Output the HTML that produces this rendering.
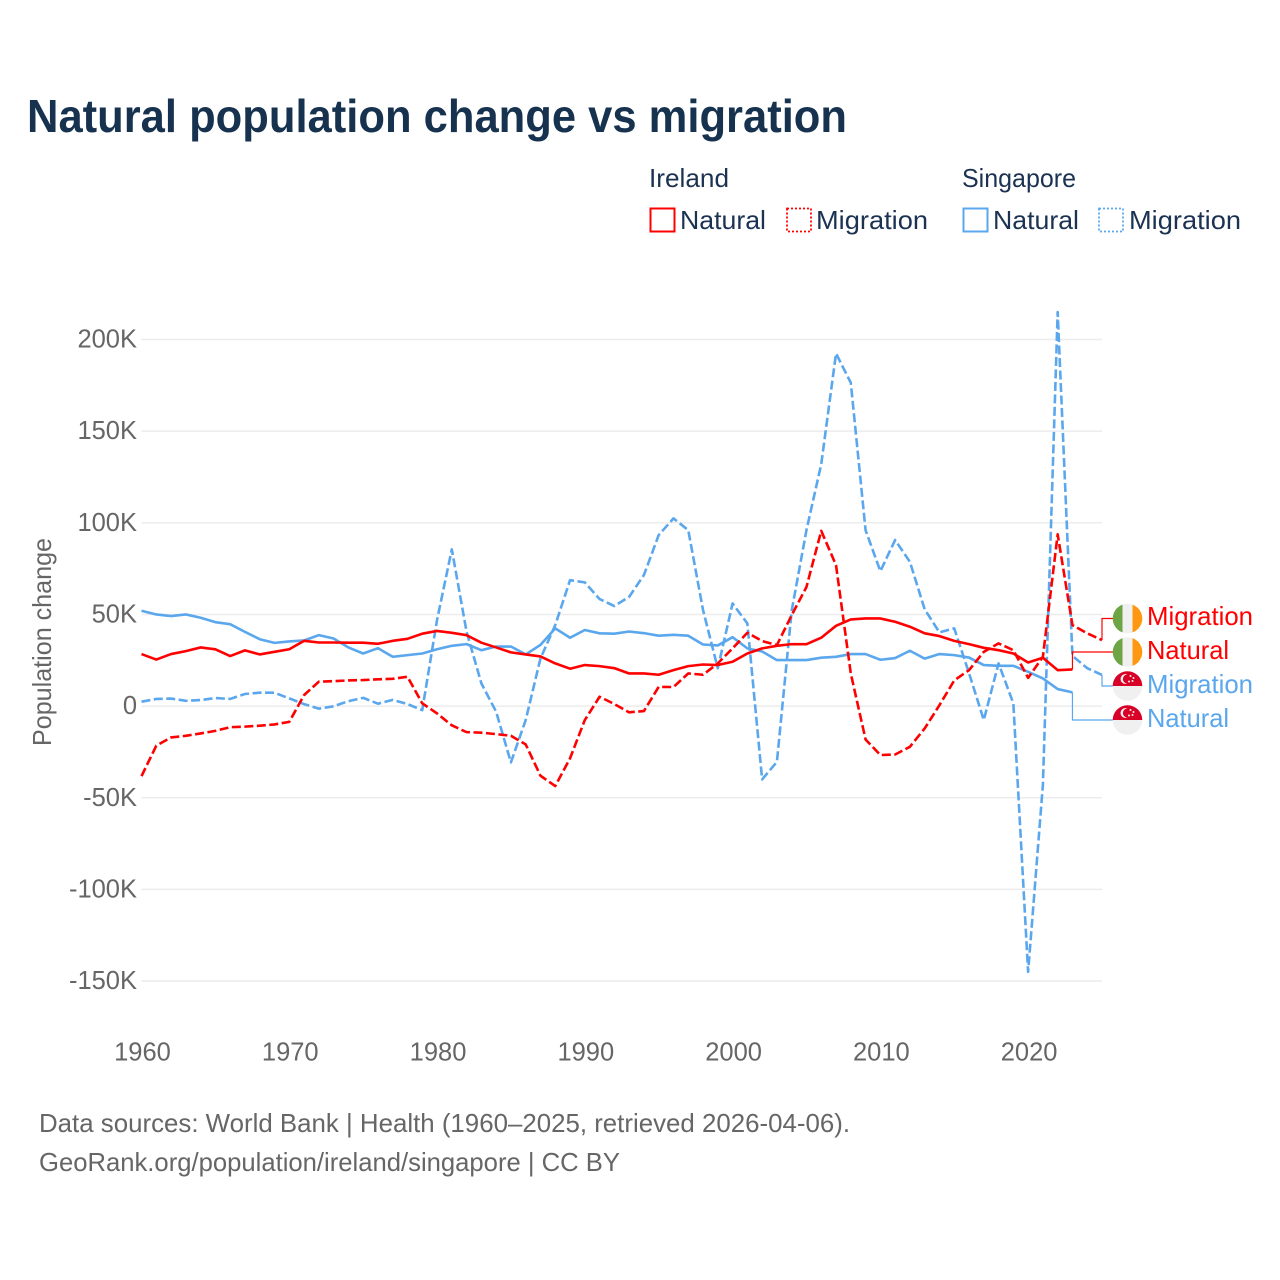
<!DOCTYPE html>
<html lang="en">
<head>
<meta charset="utf-8">
<title>Natural population change vs migration</title>
<style>
html,body{margin:0;padding:0;background:#fff;}
svg{display:block;}
text{font-family:"Liberation Sans",sans-serif;}
</style>
</head>
<body>
<svg id="chart" xmlns="http://www.w3.org/2000/svg" width="1280" height="1280" viewBox="0 0 1280 1280">
  <defs>
    <clipPath id="flag-clip"><circle cx="0" cy="0" r="14.8"/></clipPath>
  </defs>
  <rect x="0" y="0" width="1280" height="1280" fill="#ffffff"/>
  <text x="27" y="132" font-size="46" font-weight="700" fill="#17324f" textLength="820" lengthAdjust="spacingAndGlyphs">Natural population change vs migration</text>

  <g font-size="26" fill="#1b3252">
    <text x="649" y="187" textLength="80" lengthAdjust="spacingAndGlyphs">Ireland</text>
    <text x="962" y="187" textLength="114" lengthAdjust="spacingAndGlyphs">Singapore</text>
    <g>
      <rect x="650.5" y="208.5" width="24" height="23" fill="none" stroke="#ff0000" stroke-width="2"/>
      <text x="680" y="229" textLength="86" lengthAdjust="spacingAndGlyphs">Natural</text>
    </g>
    <g>
      <rect x="787" y="208.5" width="24" height="23" fill="none" stroke="#ff0000" stroke-width="1.8" stroke-dasharray="2,2"/>
      <text x="816" y="229" textLength="112" lengthAdjust="spacingAndGlyphs">Migration</text>
    </g>
    <g>
      <rect x="963.5" y="208.5" width="24" height="23" fill="none" stroke="#5ba7ee" stroke-width="2"/>
      <text x="993" y="229" textLength="86" lengthAdjust="spacingAndGlyphs">Natural</text>
    </g>
    <g>
      <rect x="1099" y="208.5" width="24" height="23" fill="none" stroke="#5ba7ee" stroke-width="1.8" stroke-dasharray="2,2"/>
      <text x="1129" y="229" textLength="112" lengthAdjust="spacingAndGlyphs">Migration</text>
    </g>
  </g>

  <g id="grid"></g>
  <g id="y-ticks"></g>
  <g id="x-ticks"></g>
  <text transform="translate(51,642) rotate(-90)" text-anchor="middle" font-size="26" fill="#666666" textLength="208" lengthAdjust="spacingAndGlyphs">Population change</text>

  <g id="series"></g>
  <g id="connectors"></g>

  <g>
    <g transform="translate(1127.5,618.5)"><g clip-path="url(#flag-clip)"><rect x="-15" y="-15" width="10" height="30" fill="#6da544"/><rect x="-5" y="-15" width="10" height="30" fill="#f0f0f0"/><rect x="5" y="-15" width="10" height="30" fill="#ff9811"/></g></g>
    <text x="1147" y="625" font-size="26" fill="#ff0000" textLength="106" lengthAdjust="spacingAndGlyphs">Migration</text>
  </g>
  <g>
    <g transform="translate(1127.5,652)"><g clip-path="url(#flag-clip)"><rect x="-15" y="-15" width="10" height="30" fill="#6da544"/><rect x="-5" y="-15" width="10" height="30" fill="#f0f0f0"/><rect x="5" y="-15" width="10" height="30" fill="#ff9811"/></g></g>
    <text x="1147" y="659" font-size="26" fill="#ff0000" textLength="82" lengthAdjust="spacingAndGlyphs">Natural</text>
  </g>
  <g>
    <g transform="translate(1127.5,686)"><g clip-path="url(#flag-clip)"><rect x="-15" y="-15" width="30" height="15" fill="#d80027"/><rect x="-15" y="0" width="30" height="15" fill="#f0f0f0"/><circle cx="-2" cy="-7" r="5" fill="#f0f0f0"/><circle cx="0" cy="-7" r="4.6" fill="#d80027"/><circle cx="3" cy="-10" r="1" fill="#f0f0f0"/><circle cx="6" cy="-8" r="1" fill="#f0f0f0"/><circle cx="5" cy="-5" r="1" fill="#f0f0f0"/><circle cx="1.500" cy="-4.500" r="1" fill="#f0f0f0"/></g></g>
    <text x="1147" y="693" font-size="26" fill="#5ba7ee" textLength="106" lengthAdjust="spacingAndGlyphs">Migration</text>
  </g>
  <g>
    <g transform="translate(1127.5,720)"><g clip-path="url(#flag-clip)"><rect x="-15" y="-15" width="30" height="15" fill="#d80027"/><rect x="-15" y="0" width="30" height="15" fill="#f0f0f0"/><circle cx="-2" cy="-7" r="5" fill="#f0f0f0"/><circle cx="0" cy="-7" r="4.6" fill="#d80027"/><circle cx="3" cy="-10" r="1" fill="#f0f0f0"/><circle cx="6" cy="-8" r="1" fill="#f0f0f0"/><circle cx="5" cy="-5" r="1" fill="#f0f0f0"/><circle cx="1.500" cy="-4.500" r="1" fill="#f0f0f0"/></g></g>
    <text x="1147" y="727" font-size="26" fill="#5ba7ee" textLength="82" lengthAdjust="spacingAndGlyphs">Natural</text>
  </g>

  <text x="39" y="1132" font-size="26" fill="#666666" textLength="811" lengthAdjust="spacingAndGlyphs">Data sources: World Bank | Health (1960–2025, retrieved 2026-04-06).</text>
  <text x="39" y="1171" font-size="26" fill="#666666" textLength="581" lengthAdjust="spacingAndGlyphs">GeoRank.org/population/ireland/singapore | CC BY</text>
</svg>
<script>
const startYear = 1960;
const endYear = 2025;
const yearTicks = [1960, 1970, 1980, 1990, 2000, 2010, 2020];
const valueTicks = [200, 150, 100, 50, 0, -50, -100, -150];
const valueTickLabels = ['200K', '150K', '100K', '50K', '0', '-50K', '-100K', '-150K'];

const irelandNatural = [
  28.4,25.4,28.4,30,32,31,27.3,30.4,28.2,29.6,
  31,35.6,34.7,34.7,34.6,34.6,34,35.6,36.7,39.5,
  41,40,38.7,34.6,32,29.3,28.2,27.1,23.3,20.4,
  22.4,21.8,20.7,17.8,17.8,17.1,19.6,21.8,22.7,22.4,
  24.2,28.7,31.5,32.9,33.8,33.8,37.3,43.8,47.3,47.8,
  47.8,46,43.3,39.7,38.2,35.6,33.8,31.8,30.5,28.7,
  23.8,26.4,19.6,20
];
const irelandMigration = [
  -38.2,-21.6,-17.1,-16.2,-14.9,-13.5,-11.5,-11.2,-10.7,-10,
  -8.6,6,13.3,13.6,14,14.2,14.6,14.9,16,1.5,
  -4,-10.5,-14.2,-14.5,-15.3,-16.2,-20.9,-38,-43.6,-28.5,
  -7.6,5.1,1.1,-3.4,-2.7,10.5,10.4,17.8,17.1,23.3,
  31.5,40,35.5,33.3,49.6,65,95.6,76.9,17.8,-18.2,
  -26.7,-26.4,-22.2,-12.2,0.5,14,19.6,29.6,34.2,30.5,
  15.4,26.9,93.7,44.2,39.7,36
];
const singaporeNatural = [
  52,50,49.1,50,48.2,45.8,44.7,40.5,36.5,34.5,
  35.3,35.8,38.7,36.9,32,28.7,31.6,26.9,27.8,28.7,
  31,32.9,33.8,30.5,32.5,32.5,28.2,33.4,42.4,37.3,
  41.5,39.7,39.5,40.7,39.8,38.4,38.9,38.4,33.6,33.1,
  37.6,31.5,29.8,25.1,25.1,25.1,26.4,26.9,28.4,28.4,
  25.3,26.2,30.2,25.9,28.4,27.8,26.5,22.4,22,22,
  18.7,15.1,9.3,7.5
];
const singaporeMigration = [
  2.4,3.9,4.1,2.9,3.3,4.4,3.9,6.6,7.3,7.3,
  4.2,1.1,-1.4,-0.1,2.7,4.5,1.3,3.4,1.1,-2.2,
  47,85.5,40.5,12.4,-3.1,-30.7,-7.6,26,44.2,68.7,
  67.5,58.4,54.6,59.6,71.5,93.3,102.4,96,52.4,20.6,
  56,45.1,-40,-30.4,52,96,132,192.4,176.4,96,
  73.6,90.6,78.7,52.8,40.2,42.4,18,-7.6,23.3,1.5,
  -145,-43,215,27.4,20.7,17
];

const NS = 'http://www.w3.org/2000/svg';
const plotLeft = 141.5;
const plotRight = 1102;
function xScale(year) {
  return plotLeft + (year - startYear) * (plotRight - plotLeft) / (endYear - startYear);
}
function yScale(value) {
  return 706.1 - value * 1.833;
}
function make(tag, parent) {
  const el = document.createElementNS(NS, tag);
  document.getElementById(parent).appendChild(el);
  return el;
}

valueTicks.forEach(function (value, i) {
  const line = make('line', 'grid');
  
  
  line.setAttribute('x1', plotLeft);
  line.setAttribute('x2', plotRight);
  line.setAttribute('y1', yScale(value));
  line.setAttribute('y2', yScale(value));
  line.setAttribute('stroke', '#ececec');
  line.setAttribute('stroke-width', '1.5');
  const label = make('text', 'y-ticks');
  
  
  label.setAttribute('x', 137);
  label.setAttribute('y', yScale(value) + 8);
  label.setAttribute('text-anchor', 'end');
  label.setAttribute('font-size', '25.5');
  label.setAttribute('fill', '#666666');
  label.textContent = valueTickLabels[i];
});

yearTicks.forEach(function (year) {
  const label = make('text', 'x-ticks');
  
  
  label.setAttribute('x', xScale(year) + 1);
  label.setAttribute('y', 1060.5);
  label.setAttribute('text-anchor', 'middle');
  label.setAttribute('font-size', '25.5');
  label.setAttribute('fill', '#666666');
  label.textContent = String(year);
});

function drawSeries(values, color, dashed, name) {
  const path = make('path', 'series');
  
  
  const d = values.map(function (v, i) {
    return (i ? 'L' : 'M') + xScale(startYear + i).toFixed(2) + ' ' + yScale(v).toFixed(2);
  }).join(' ');
  path.setAttribute('d', d);
  path.setAttribute('fill', 'none');
  path.setAttribute('stroke', color);
  path.setAttribute('stroke-width', '2.600');
  path.setAttribute('stroke-linejoin', 'round');
  if (dashed) path.setAttribute('stroke-dasharray', '9,3.5');
}

function drawConnector(values, color, labelY, name) {
  const path = make('path', 'connectors');
  
  
  const lastX = xScale(startYear + values.length - 1);
  const lastY = yScale(values[values.length - 1]);
  path.setAttribute('d', 'M' + lastX.toFixed(2) + ' ' + lastY.toFixed(2) + ' L' + lastX.toFixed(2) + ' ' + labelY + ' L1113 ' + labelY);
  path.setAttribute('fill', 'none');
  path.setAttribute('stroke', color);
  path.setAttribute('stroke-width', '1.200');
}

drawSeries(singaporeMigration, '#5ba7ee', true, 'line-singapore-migration');
drawSeries(singaporeNatural, '#5ba7ee', false, 'line-singapore-natural');
drawSeries(irelandMigration, '#ff0000', true, 'line-ireland-migration');
drawSeries(irelandNatural, '#ff0000', false, 'line-ireland-natural');

drawConnector(irelandMigration, '#ff0000', 618.5, 'connector-ireland-migration');
drawConnector(irelandNatural, '#ff0000', 652, 'connector-ireland-natural');
drawConnector(singaporeMigration, '#5ba7ee', 686, 'connector-singapore-migration');
drawConnector(singaporeNatural, '#5ba7ee', 720, 'connector-singapore-natural');
</script>
</body>
</html>
